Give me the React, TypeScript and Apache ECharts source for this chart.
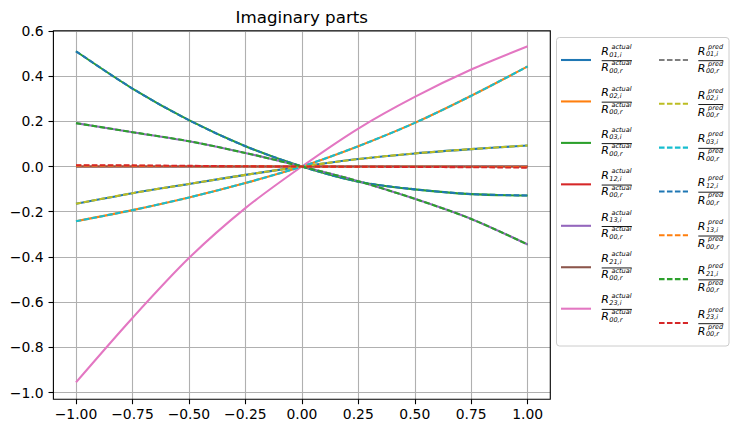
import React, { useEffect, useRef } from "react";
import * as echarts from "echarts";

const xValues = [-1, -0.75, -0.5, -0.25, 0, 0.25, 0.5, 0.75, 1];

const suffixes = ["01", "02", "03", "12", "13", "21", "23"];

const actual01 = [-0.165, -0.118, -0.077, -0.037, 0, 0.033, 0.058, 0.077, 0.093];
const actual02 = [-0.242, -0.193, -0.137, -0.073, 0, 0.09, 0.193, 0.313, 0.443];
const actual03 = [0.51, 0.345, 0.205, 0.09, 0, -0.067, -0.101, -0.122, -0.128];
const actual12 = [0, 0, 0, 0, 0, 0, 0, 0, 0];
const actual13 = [0.192, 0.152, 0.112, 0.06, 0, -0.065, -0.143, -0.232, -0.345];
const actual21 = [0, 0, 0, 0, 0, 0, 0, 0, 0];
const actual23 = [-0.955, -0.67, -0.405, -0.184, 0, 0.168, 0.308, 0.429, 0.532];

const pred01 = [0, 0, 0, 0, 0, 0, 0, 0, 0];
const pred02 = [-0.165, -0.118, -0.077, -0.037, 0, 0.033, 0.058, 0.077, 0.093];
const pred03 = [-0.242, -0.193, -0.137, -0.073, 0, 0.09, 0.193, 0.313, 0.443];
const pred12 = [0.51, 0.345, 0.205, 0.09, 0, -0.067, -0.101, -0.122, -0.128];
const pred13 = [0.004, 0.003, 0.002, 0.001, 0, -0.001, -0.001, -0.002, -0.002];
const pred21 = [0.192, 0.152, 0.112, 0.06, 0, -0.065, -0.143, -0.232, -0.345];
const pred23 = [0.006, 0.005, 0.003, 0.001, 0, -0.001, -0.002, -0.003, -0.005];

const actualSeries = [actual01, actual02, actual03, actual12, actual13, actual21, actual23];
const predSeries = [pred01, pred02, pred03, pred12, pred13, pred21, pred23];

const actualColors = ["#1f77b4", "#ff7f0e", "#2ca02c", "#d62728", "#9467bd", "#8c564b", "#e377c2"];
const predColors = ["#7f7f7f", "#bcbd22", "#17becf", "#1f77b4", "#ff7f0e", "#2ca02c", "#d62728"];

const xTicks = [-1, -0.75, -0.5, -0.25, 0, 0.25, 0.5, 0.75, 1];
const yTicks = [-1, -0.8, -0.6, -0.4, -0.2, 0, 0.2, 0.4, 0.6];

const FONT = "'DejaVu Sans', sans-serif";

function fmt(v: number, d: number) {
  const s = (Math.abs(v) < 1e-9 ? 0 : v).toFixed(d);
  return s.replace("-", "\u2212");
}

function buildLegend() {
  const children: any[] = [];
  children.push({
    type: "rect",
    shape: { x: 556.5, y: 37.5, width: 172.5, height: 308.5, r: 3 },
    style: { fill: "rgba(255,255,255,0.8)", stroke: "#cccccc", lineWidth: 1 },
  });
  const cols = [
    { kind: "actual", colors: actualColors, lineX1: 561, lineX2: 591, lx: 601.7, barW: 30, y0: 60, dy: 41.45, supOff: -12.9, numSub: -5.5, denR: 7.6, denSup: 3.4, denSub: 10.8 },
    { kind: "pred", colors: predColors, lineX1: 659, lineX2: 688, lx: 698.3, barW: 25, y0: 60, dy: 43.83, supOff: -13.2, numSub: -5.6, denR: 8.6, denSup: 3.7, denSub: 11.2 },
  ];
  cols.forEach((c) => {
    suffixes.forEach((sfx, i) => {
      const y = c.y0 + i * c.dy;
      children.push({
        type: "line",
        shape: { x1: c.lineX1, y1: y, x2: c.lineX2, y2: y },
        style: {
          stroke: c.colors[i],
          lineWidth: 2.08,
          lineDash: c.kind === "pred" ? [5.55, 2.4] : null,
        },
      });
      const small = { fontSize: 6.5, lineHeight: 6, fontFamily: FONT, fontStyle: "italic", fill: "#000", align: "left", verticalAlign: "middle" };
      const big = { fontSize: 11, lineHeight: 10, fontFamily: FONT, fontStyle: "italic", fill: "#000", align: "left", verticalAlign: "middle" };
      // numerator
      children.push({ type: "text", x: c.lx - 0.5, y: y - 8.8, style: { ...big, text: "R" } });
      children.push({ type: "text", x: c.lx + 9.8, y: y + c.supOff, style: { ...small, text: c.kind } });
      children.push({ type: "text", x: c.lx + 7.6, y: y + c.numSub, style: { ...small, text: sfx + ",i" } });
      // bar
      children.push({
        type: "line",
        shape: { x1: c.lx, y1: y + 0.7, x2: c.lx + c.barW, y2: y + 0.7 },
        style: { stroke: "#000", lineWidth: 0.9 },
      });
      // denominator
      children.push({ type: "text", x: c.lx - 0.5, y: y + c.denR, style: { ...big, text: "R" } });
      children.push({ type: "text", x: c.lx + 9.8, y: y + c.denSup, style: { ...small, text: c.kind } });
      children.push({ type: "text", x: c.lx + 7.6, y: y + c.denSub, style: { ...small, text: "00,r" } });
    });
  });
  return children;
}

export default function App() {
  const ref = useRef<HTMLDivElement>(null);
  useEffect(() => {
    if (!ref.current) return;
    const chart = echarts.init(ref.current, null, { renderer: "svg" });
    const series: any[] = [];
    actualSeries.forEach((arr, i) => {
      series.push({
        name: "actual" + suffixes[i],
        type: "line",
        data: xValues.map((x, k) => [x, arr[k]]),
        showSymbol: false,
        smooth: 0.3,
        lineStyle: { color: actualColors[i], width: 2.08 },
        itemStyle: { color: actualColors[i] },
      });
    });
    predSeries.forEach((arr, i) => {
      series.push({
        name: "pred" + suffixes[i],
        type: "line",
        data: xValues.map((x, k) => [x, arr[k]]),
        showSymbol: false,
        smooth: 0.3,
        lineStyle: { color: predColors[i], width: 2.08, type: [5.55, 2.4] },
        itemStyle: { color: predColors[i] },
      });
    });
    chart.setOption({
      animation: false,
      backgroundColor: "#ffffff",
      grid: {
        left: 53.4,
        top: 30.7,
        width: 496.9,
        height: 368.6,
        show: true,
        borderColor: "#000000",
        borderWidth: 1.1,
        backgroundColor: "transparent",
        z: 10,
      },
      xAxis: {
        type: "value",
        min: -1.1,
        max: 1.1,
        axisLine: { show: false, onZero: false },
        axisTick: { show: true, length: 4.9, lineStyle: { color: "#000", width: 1.1 }, customValues: xTicks },
        axisLabel: {
          customValues: xTicks,
          formatter: (v: number) => fmt(v, 2),
          color: "#000",
          fontSize: 13.9,
          fontFamily: FONT,
          margin: 8,
        },
        splitLine: { show: true, lineStyle: { color: "#b0b0b0", width: 1.1 } },
      },
      yAxis: {
        type: "value",
        min: -1.03,
        max: 0.601,
        axisLine: { show: false, onZero: false },
        axisTick: { show: true, length: 4.9, lineStyle: { color: "#000", width: 1.1 }, customValues: yTicks },
        axisLabel: {
          customValues: yTicks,
          formatter: (v: number) => fmt(v, 1),
          color: "#000",
          fontSize: 13.9,
          fontFamily: FONT,
          margin: 9.8,
        },
        splitLine: { show: true, lineStyle: { color: "#b0b0b0", width: 1.1 } },
      },
      series,
      graphic: [
        {
          type: "text",
          x: 301.8,
          y: 17,
          style: {
            text: "Imaginary parts",
            fontSize: 16.7,
            fontFamily: FONT,
            fill: "#000",
            align: "center",
            verticalAlign: "middle",
          },
        },
        { type: "group", children: buildLegend() },
      ],
    });
    return () => chart.dispose();
  }, []);
  return (
    <div
      ref={ref}
      style={{ position: "absolute", left: 0, top: 0, width: 739, height: 433, background: "#fff" }}
    />
  );
}
